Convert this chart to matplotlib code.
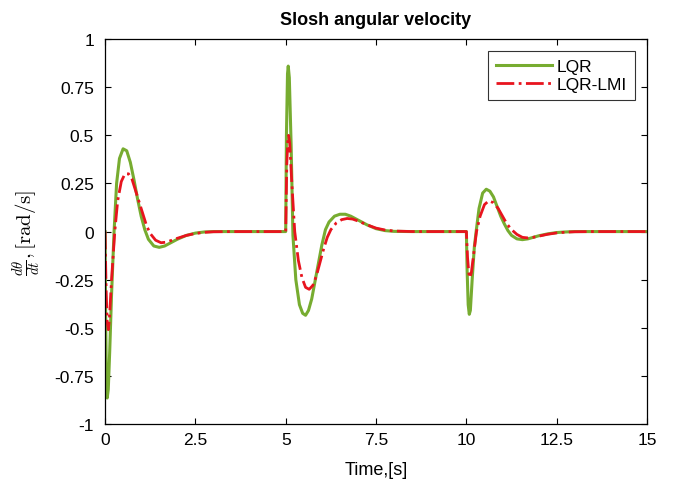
import matplotlib
matplotlib.use('Agg')
import matplotlib.pyplot as plt

plt.rcParams['font.family'] = ['Liberation Sans', 'DejaVu Sans']
plt.rcParams['mathtext.fontset'] = 'cm'

# LQR response
t_lqr = [0, 0.02, 0.04, 0.06, 0.09, 0.13, 0.18, 0.25, 0.32, 0.4, 0.5, 0.6, 0.7, 0.8, 0.9,
         1.0, 1.1, 1.2, 1.35, 1.5, 1.65, 1.8, 2.0, 2.25, 2.5, 2.75, 3.0, 5.0,
         5.02, 5.05, 5.07, 5.1, 5.15, 5.2, 5.28, 5.38, 5.47, 5.55, 5.63, 5.72, 5.8, 5.9, 6.0,
         6.1, 6.2, 6.35, 6.5, 6.65, 6.8, 7.0, 7.25, 7.5, 7.75, 8.0, 8.5, 10.0,
         10.02, 10.05, 10.08, 10.11, 10.16, 10.22, 10.27, 10.35, 10.45, 10.55, 10.65,
         10.75, 10.85, 10.95, 11.05, 11.15, 11.25, 11.4, 11.55, 11.7, 11.85, 12.0,
         12.25, 12.5, 12.75, 13.0, 15.0]
v_lqr = [0, -0.5, -0.8, -0.865, -0.82, -0.62, -0.33, 0.0, 0.25, 0.38, 0.43, 0.42, 0.36, 0.27, 0.17,
         0.08, 0.01, -0.04, -0.075, -0.082, -0.075, -0.06, -0.04, -0.02, -0.008, -0.002, 0.0, 0.0,
         0.5, 0.82, 0.86, 0.8, 0.45, -0.02, -0.25, -0.38, -0.425, -0.435, -0.41, -0.35, -0.27, -0.17, -0.07,
         0.01, 0.05, 0.08, 0.09, 0.09, 0.08, 0.06, 0.035, 0.015, 0.005, 0.001, 0.0, 0.0,
         -0.2, -0.38, -0.43, -0.41, -0.25, -0.08, 0.0, 0.12, 0.2, 0.22, 0.21,
         0.18, 0.13, 0.08, 0.04, 0.005, -0.02, -0.038, -0.042, -0.038, -0.03, -0.022,
         -0.012, -0.005, -0.002, 0.0, 0.0]

# LQR-LMI response
t_lmi = [0, 0.03, 0.06, 0.09, 0.12, 0.18, 0.27, 0.35, 0.45, 0.55, 0.65, 0.75, 0.85, 0.95,
         1.05, 1.15, 1.25, 1.4, 1.55, 1.7, 1.85, 2.0, 2.25, 2.5, 2.75, 3.0, 3.5, 5.0,
         5.03, 5.06, 5.08, 5.11, 5.17, 5.25, 5.35, 5.45, 5.55, 5.65, 5.75, 5.85, 5.95,
         6.05, 6.15, 6.25, 6.4, 6.55, 6.7, 6.85, 7.0, 7.25, 7.5, 7.75, 8.0, 8.5, 10.0,
         10.03, 10.07, 10.1, 10.14, 10.2, 10.28, 10.38, 10.5, 10.62, 10.75, 10.88, 11.0,
         11.12, 11.25, 11.4, 11.55, 11.7, 11.85, 12.0, 12.25, 12.5, 12.75, 13.0, 13.5, 15.0]
v_lmi = [0, -0.3, -0.47, -0.51, -0.46, -0.25, 0.0, 0.16, 0.26, 0.3, 0.3, 0.27, 0.21, 0.15,
         0.09, 0.03, -0.01, -0.045, -0.058, -0.055, -0.045, -0.035, -0.02, -0.01, -0.004, -0.001, 0.0, 0.0,
         0.35, 0.48, 0.5, 0.46, 0.25, 0.0, -0.15, -0.24, -0.29, -0.3, -0.28, -0.23, -0.16,
         -0.09, -0.03, 0.01, 0.045, 0.062, 0.068, 0.065, 0.055, 0.035, 0.018, 0.008, 0.003, 0.0, 0.0,
         -0.13, -0.22, -0.24, -0.21, -0.12, 0.0, 0.08, 0.14, 0.16, 0.15, 0.12, 0.08,
         0.04, 0.01, -0.015, -0.03, -0.033, -0.03, -0.024, -0.014, -0.007, -0.003, -0.001, 0.0, 0.0]

xticks = [0, 2.5, 5, 7.5, 10, 12.5, 15]
xticklabels = ['0', '2.5', '5', '7.5', '10', '12.5', '15']
yticks = [-1, -0.75, -0.5, -0.25, 0, 0.25, 0.5, 0.75, 1]
yticklabels = ['-1', '-0.75', '-0.5', '-0.25', '0', '0.25', '0.5', '0.75', '1']

fig = plt.figure(figsize=(6.75, 4.89), dpi=100)
ax = fig.add_axes([0.1556, 0.1309, 0.803, 0.787])

ax.plot(t_lqr, v_lqr, color='#77AC30', lw=2.2, label='LQR')
ax.plot(t_lmi, v_lmi, color='#E8141E', lw=2.0, ls='-.', label='LQR-LMI')

ax.set_xlim(0, 15)
ax.set_ylim(-1, 1)
ax.set_xticks(xticks)
ax.set_xticklabels(xticklabels)
ax.set_yticks(yticks)
ax.set_yticklabels(yticklabels)
ax.tick_params(direction='in', top=True, right=True, labelsize=12.5, length=4, width=0.8)
ax.tick_params(axis='y', pad=8)
ax.tick_params(axis='x', pad=6)
for s in ax.spines.values():
    s.set_linewidth(0.9)

ax.set_title('Slosh angular velocity', fontsize=13, fontweight='bold', pad=11)
ax.set_xlabel('Time,[s]', fontsize=13, labelpad=10)
ax.set_ylabel(r'$\frac{d\theta}{dt},[\mathrm{rad/s}]$', fontsize=15, labelpad=8)

leg = ax.legend(loc='upper right', fontsize=12.5, frameon=True, fancybox=False,
                borderpad=0.45, handlelength=3.2, handletextpad=0.3, labelspacing=0.15,
                borderaxespad=0.7)
leg.get_frame().set_edgecolor('black')
leg.get_frame().set_linewidth(0.8)

fig.savefig('out.png', dpi=100)
